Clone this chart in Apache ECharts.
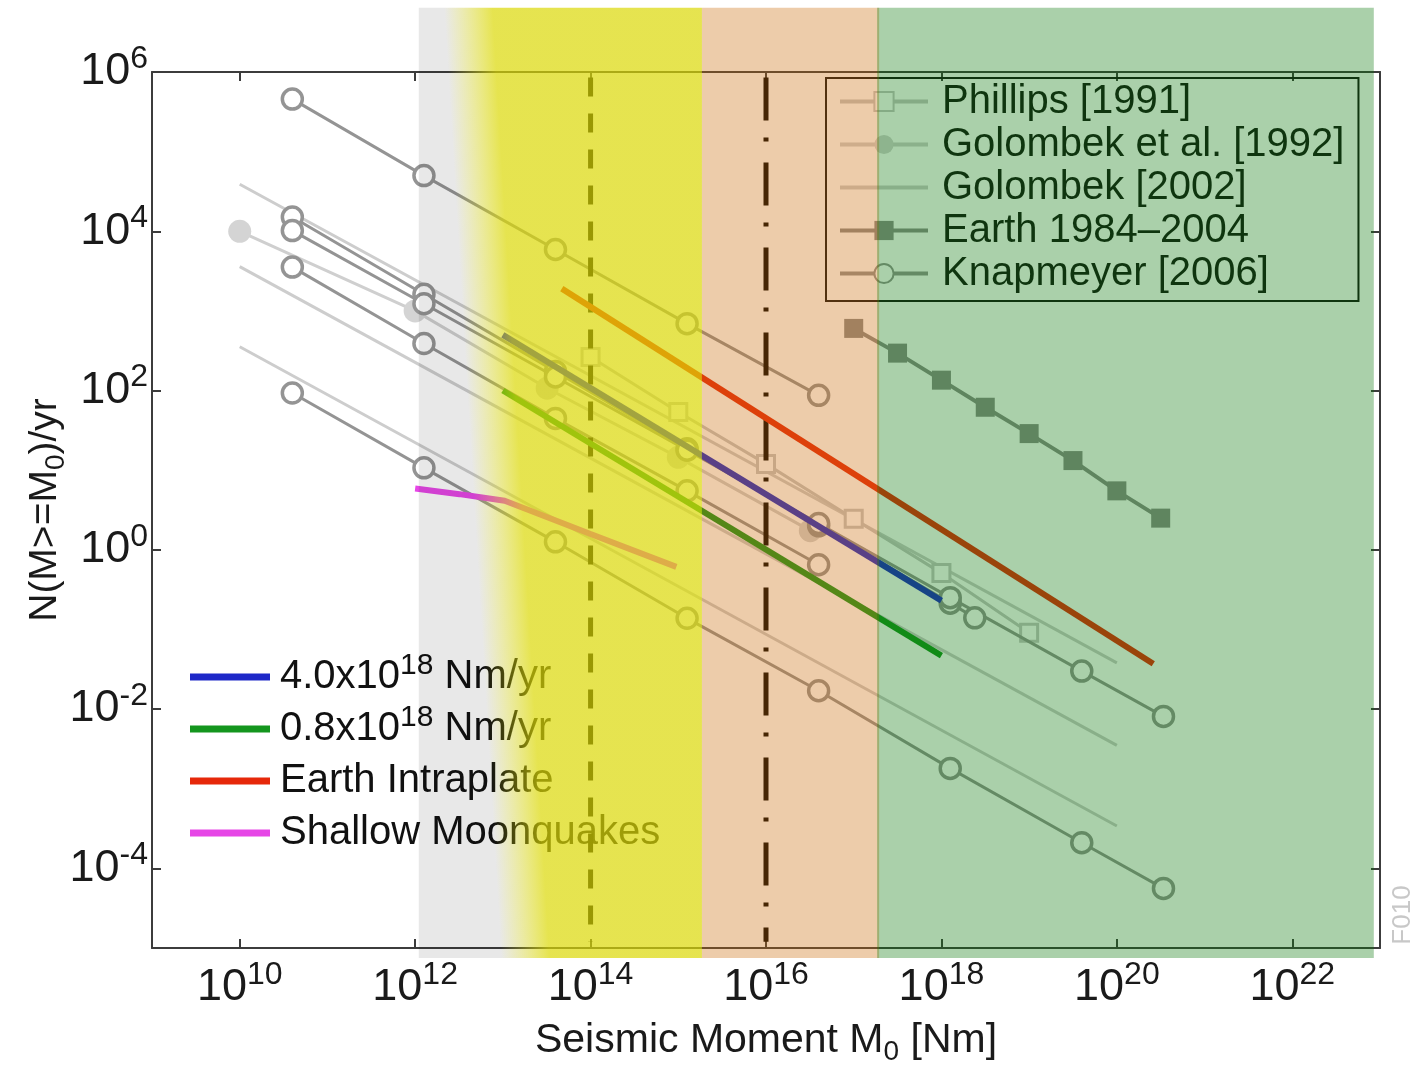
<!DOCTYPE html>
<html><head><meta charset="utf-8">
<script src="https://cdn.jsdelivr.net/npm/echarts@6/dist/echarts.min.js"></script>
<style>html,body{margin:0;padding:0;background:#fff;overflow:hidden}#c{width:1416px;height:1071px}</style>
</head><body><div id="c"></div>
<script>
// ---------------- data ----------------
// Knapmeyer [2006] models: marker moments and cumulative rates
const knapM  = [3.98e10, 1.26e12, 3.98e13, 1.26e15, 3.98e16, 1.26e18, 3.98e19, 3.4e20];
const knap2M = [3.98e10, 1.26e12, 3.98e13, 1.26e15, 3.98e16, 1.26e18, 2.4e18];
const knap1N = [4.57e5, 5.0e4, 5.9e3, 692, 87];
const knap2N = [1.51e4, 1.62e3, 174, 18.6, 2.0, 0.214, 0.14];
const knap3N = [1.02e4, 1.23e3, 148, 17.8, 2.14, 0.251, 0.030, 0.0081];
const knap4N = [3.55e3, 389, 44.7, 5.5, 0.65];
const knap5N = [93, 10.7, 1.26, 0.138, 0.017, 0.0018, 2.1e-4, 5.6e-5];
// Golombek [2002]
const g02M  = [1e10, 1e20];
const g02aN = [3.9e4, 0.038];
const g02bN = [3.6e3, 3.5e-3];
const g02cN = [355, 3.4e-4];
// Golombek et al. [1992]
const g92M = [1e10, 1e12, 3.2e13, 1e15, 3.2e16];
const g92N = [1e4, 1e3, 107, 14.5, 1.74];
// Phillips [1991]
const phM = [1e14, 1e15, 1e16, 1e17, 1e18, 1e19];
const phN = [263, 53.7, 12, 2.45, 0.51, 0.091];
// Earth 1984-2004
const earthM = [1e17, 3.16e17, 1e18, 3.16e18, 1e19, 3.16e19, 1e20, 3.16e20];
const earthN = [603, 295, 135, 61.7, 28.8, 13.2, 5.5, 2.5];
// moment-rate lines
const rateM   = [1e13, 1e18];
const rate40N = [500, 0.23];
const rate08N = [100, 0.047];
// Earth intraplate
const intraM = [4.7e13, 2.6e20];
const intraN = [1905, 0.037];
// Shallow moonquakes
const moonM = [1e12, 3.2e12, 1.05e13, 1e14, 9.5e14];
const moonN = [5.9, 5.0, 4.13, 1.58, 0.61];
// vertical reference moments
const vlineM = [1e14, 1e16];
const vlineN = [8.5e5, 1.2e-5];
// shaded moment ranges: gray, yellow, peach, green
const bandFrom = [1.1e12, 1.1e12, 1.86e15, 1.85e17];
const bandTo   = [1.86e15, 1.86e15, 1.95e17, 8.5e22];
const bandN    = [6.4e6, 7.5e-6];
// axis ticks
const xTicks = [1e10, 1e12, 1e14, 1e16, 1e18, 1e20, 1e22];
const yTicks = [1e-4, 1e-2, 1, 1e2, 1e4, 1e6];

const legendTop = ['Phillips [1991]', 'Golombek et al. [1992]', 'Golombek [2002]', 'Earth 1984\u20132004', 'Knapmeyer [2006]'];
const legendBottom = ['4.0x10^18 Nm/yr', '0.8x10^18 Nm/yr', 'Earth Intraplate', 'Shallow Moonquakes'];

// ---------------- chart ----------------
const FONT = 'Liberation Sans';
const pairs = (xs, ys) => ys.map((y, i) => [xs[i], y]);
const chart = echarts.init(document.getElementById('c'), null, {renderer: 'canvas', width: 1416, height: 1071});

const grayK = '#949494';
function knap(xs, ys) {
  return {type: 'line', name: 'Knapmeyer [2006]', data: pairs(xs, ys), symbol: 'circle', symbolSize: 20,
    itemStyle: {color: '#ffffff', borderColor: grayK, borderWidth: 3.5}, lineStyle: {color: grayK, width: 3}, z: 3};
}
function g02(ys) {
  return {type: 'line', name: 'Golombek [2002]', data: pairs(g02M, ys), symbol: 'none',
    itemStyle: {color: 'rgba(0,0,0,0)'}, lineStyle: {color: '#cdcdcd', width: 3}, z: 2};
}
function colored(name, xs, ys, color) {
  return {type: 'line', name, data: pairs(xs, ys), symbol: 'none', itemStyle: {color},
    lineStyle: {color, width: 6}, z: 5};
}
function slantGradient(w, h, c0, c1) {
  return {type: 'linear', x: 0, y: 1, x2: 1, y2: 1 - 0.06 * w / h, colorStops: [
    {offset: 0, color: c0}, {offset: 0.29, color: c0},
    {offset: 0.46, color: c1}, {offset: 1, color: c1}]};
}
const bandStyles = ['gray', 'yellow', 'rgba(204,109,12,0.35)', 'rgba(12,121,12,0.35)'];

function renderBand(params, api) {
  const i = params.dataIndex;
  const p0 = api.coord([api.value(0), bandN[0]]);
  const p1 = api.coord([api.value(1), bandN[1]]);
  const w = p1[0] - p0[0], h = p1[1] - p0[1];
  let fill = bandStyles[i];
  if (fill === 'gray') fill = slantGradient(w, h, 'rgba(0,0,0,0.09)', 'rgba(0,0,0,0)');
  else if (fill === 'yellow') fill = slantGradient(w, h, 'rgba(219,216,5,0)', 'rgba(219,216,5,0.7)');
  return {type: 'rect', shape: {x: p0[0], y: p0[1], width: w, height: h}, style: {fill}};
}

const supFmt = v => '10{e|' + Math.round(Math.log10(v)) + '}';
const labelRich = {e: {fontSize: 32, fontFamily: FONT, color: '#1a1a1a', verticalAlign: 'top', lineHeight: 32}};
const axisLineStyle = {color: '#3c3c3c', width: 2};
const subRich = {s: {fontSize: 28, fontFamily: FONT, color: '#1a1a1a', verticalAlign: 'bottom', lineHeight: 28}};

function xAxis(pos, showLabel) {
  return {type: 'log', logBase: 10, min: 1e9, max: 1e23, position: pos,
    axisLine: {show: true, lineStyle: axisLineStyle},
    axisTick: {show: true, inside: true, length: 9, lineStyle: {color: '#3c3c3c', width: 2}, customValues: xTicks},
    axisLabel: {show: showLabel, customValues: xTicks, formatter: supFmt, fontSize: 45, lineHeight: 58,
      fontFamily: FONT, color: '#1a1a1a', margin: 11, rich: labelRich},
    splitLine: {show: false}, minorTick: {show: false},
    name: showLabel ? 'Seismic Moment M{s|0} [Nm]' : '', nameLocation: 'middle', nameGap: 68,
    nameMoveOverlap: false,
    nameTextStyle: {fontSize: 41, fontFamily: FONT, color: '#1a1a1a', lineHeight: 50, rich: subRich}
  };
}
function yAxis(pos, showLabel) {
  return {type: 'log', logBase: 10, min: 1e-5, max: 1e6, position: pos,
    axisLine: {show: true, lineStyle: axisLineStyle},
    axisTick: {show: true, inside: true, length: 9, lineStyle: {color: '#3c3c3c', width: 2}, customValues: yTicks},
    axisLabel: {show: showLabel, customValues: yTicks, formatter: supFmt, fontSize: 45, lineHeight: 58,
      fontFamily: FONT, color: '#1a1a1a', margin: 4, rich: labelRich},
    splitLine: {show: false}, minorTick: {show: false},
    name: showLabel ? 'N(M>=M{s|0})/yr' : '', nameLocation: 'middle', nameGap: 82,
    nameMoveOverlap: false,
    nameTextStyle: {fontSize: 39, fontFamily: FONT, color: '#1a1a1a', lineHeight: 50, rich: subRich}
  };
}

const option = {
  animation: false,
  backgroundColor: '#ffffff',
  grid: {left: 152, right: 36, top: 72, height: 876, containLabel: false},
  xAxis: [xAxis('bottom', true), xAxis('top', false)],
  yAxis: [yAxis('left', true), yAxis('right', false)],
  legend: [
    {data: legendTop, orient: 'vertical', left: 826, top: 78, itemWidth: 88, itemHeight: 24, itemGap: 0,
      padding: [2, 14, 6, 12], borderColor: '#111', borderWidth: 2, selectedMode: false,
      lineStyle: {width: 4},
      textStyle: {fontSize: 40, fontFamily: FONT, color: '#111', lineHeight: 43, padding: [0, 0, 0, 9]}},
    {data: legendBottom.map(n => ({name: n, icon: 'rect'})), orient: 'vertical', left: 190, top: 651,
      itemWidth: 80, itemHeight: 7, itemGap: 0, padding: 0, selectedMode: false,
      formatter: n => n.replace('^18', '{s|18}'),
      textStyle: {fontSize: 40, fontFamily: FONT, color: '#111', lineHeight: 52, padding: [0, 0, 0, 5],
        rich: {s: {fontSize: 30, fontFamily: FONT, color: '#111', verticalAlign: 'top', lineHeight: 30}}}}
  ],
  graphic: [{type: 'text', x: 1403, y: 915, rotation: Math.PI / 2,
    style: {text: 'F010', fontSize: 26, fontFamily: FONT, fill: '#c8c8c8', align: 'center', verticalAlign: 'middle'}}],
  series: [
    g02(g02aN), g02(g02bN), g02(g02cN),
    {type: 'line', name: 'Golombek et al. [1992]', data: pairs(g92M, g92N), symbol: 'circle', symbolSize: 23,
      itemStyle: {color: '#d4d4d4'}, lineStyle: {color: '#cfcfcf', width: 3}, z: 2},
    {type: 'line', name: 'Phillips [1991]', data: pairs(phM, phN), symbol: 'rect', symbolSize: 17,
      itemStyle: {color: '#ffffff', borderColor: '#c6c6c6', borderWidth: 3}, lineStyle: {color: '#c6c6c6', width: 3}, z: 2},
    {type: 'line', name: 'Earth 1984\u20132004', data: pairs(earthM, earthN), symbol: 'rect', symbolSize: 19,
      itemStyle: {color: '#8c8c8c'}, lineStyle: {color: '#8c8c8c', width: 4}, z: 3},
    knap(knapM, knap1N), knap(knap2M, knap2N), knap(knapM, knap3N), knap(knapM, knap4N), knap(knapM, knap5N),
    {type: 'line', name: 'vline1', data: [[vlineM[0], vlineN[0]], [vlineM[0], vlineN[1]]], symbol: 'none', silent: true,
      lineStyle: {color: '#000', width: 5, type: [19, 17]}, z: 4},
    {type: 'line', name: 'vline2', data: [[vlineM[1], vlineN[0]], [vlineM[1], vlineN[1]]], symbol: 'none', silent: true,
      lineStyle: {color: '#000', width: 5, type: [43, 17, 4, 21]}, z: 4},
    colored('4.0x10^18 Nm/yr', rateM, rate40N, '#1e28c8'),
    colored('0.8x10^18 Nm/yr', rateM, rate08N, '#14961e'),
    colored('Earth Intraplate', intraM, intraN, '#e6280a'),
    colored('Shallow Moonquakes', moonM, moonN, '#e646e6'),
    {type: 'custom', name: 'bands', silent: true, clip: false, z: 20,
      data: bandFrom.map((f, i) => [f, bandTo[i], 1]), encode: {x: [0, 1], y: 2},
      renderItem: renderBand}
  ]
};
chart.setOption(option);
</script>
</body></html>
